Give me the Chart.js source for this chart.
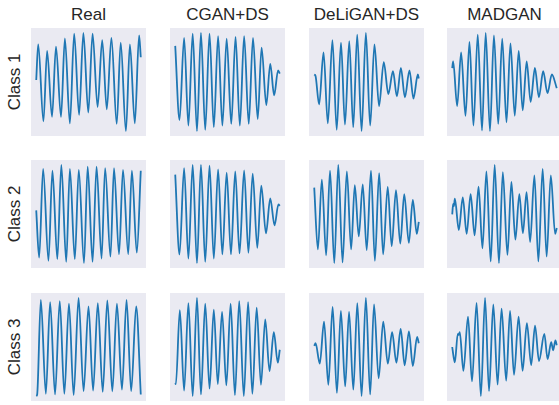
<!DOCTYPE html>
<html>
<head>
<meta charset="utf-8">
<script src="https://cdn.jsdelivr.net/npm/chart.js@4.4.0/dist/chart.umd.min.js"></script>
<style>
  html, body { margin: 0; padding: 0; background: #fff; }
  #fig { position: relative; width: 559px; height: 405px; overflow: hidden; background: #fff;
         font-family: "Liberation Sans", Arial, sans-serif; color: #262626; }
  #fig canvas { position: absolute; }
  .col-title { position: absolute; top: 5px; width: 140px; text-align: center; font-size: 17px; line-height: 20px; }
  .row-label { position: absolute; width: 108px; text-align: center; font-size: 17px; line-height: 20px;
               transform: rotate(-90deg); transform-origin: center center; }
</style>
</head>
<body>
<div id="fig"></div>
<script>
const methods = ['Real', 'CGAN+DS', 'DeLiGAN+DS', 'MADGAN'];
const classes = ['Class 1', 'Class 2', 'Class 3'];

// signal samples [t, value] (extrema mostly)
const realClass1 = [[0,0.05],[1.9,1.15],[6.9,-1.22],[10.4,0.95],[15.1,-1.08],[18.9,1.08],[23.7,-1.08],[27.4,1.33],[32.2,-1.28],[36.3,1.48],[41.0,-1.02],[45.1,1.50],[49.8,-0.95],[53.9,1.48],[58.7,-0.78],[63.1,1.28],[67.5,-0.85],[71.9,1.35],[77.0,-1.30],[80.8,1.20],[85.8,-1.52],[89.6,1.15],[94.3,-1.28],[98.4,1.42],[100,0.75]];
const cganClass1 = [[0,1.10],[4.1,-1.18],[8.5,1.35],[12.6,-1.35],[16.7,1.48],[20.8,-1.52],[24.6,1.50],[28.7,-1.48],[32.8,1.48],[36.9,-1.40],[41.0,1.40],[45.1,-1.35],[49.2,1.32],[53.6,-1.30],[57.7,1.38],[61.8,-1.35],[65.9,1.40],[70.3,-1.30],[74.4,1.35],[78.9,-1.15],[82.6,1.05],[87.1,-0.72],[90.9,0.55],[94.6,-0.42],[98.4,0.35],[100,0.25]];
const deliganClass1 = [[0,0.22],[1.2,0.18],[4.7,-0.70],[8.9,0.90],[13.0,-1.28],[17.4,1.28],[21.5,-1.48],[25.6,1.20],[29.4,-1.32],[33.5,1.25],[37.3,-1.40],[41.1,1.45],[45.3,-1.52],[49.4,1.50],[53.5,-1.35],[57.6,1.15],[62.0,-0.75],[66.5,0.60],[70.9,-0.38],[75.3,0.32],[79.1,-0.45],[82.9,0.42],[86.7,-0.48],[91.1,0.35],[94.9,-0.52],[99.1,0.22],[100,0.10]];
const madganClass1 = [[0,0.42],[0.9,0.62],[4.7,-0.75],[8.5,0.90],[12.7,-1.05],[16.5,1.22],[20.3,-1.35],[24.4,1.45],[28.5,-1.50],[32.0,1.50],[36.1,-1.52],[39.9,1.42],[44.0,-1.30],[47.8,1.32],[51.9,-1.25],[55.7,1.18],[59.8,-1.05],[63.6,0.95],[67.4,-0.88],[71.2,0.62],[75.0,-0.62],[79.1,0.42],[82.9,-0.48],[87.0,0.32],[91.1,-0.35],[95.3,0.22],[100,-0.20]];

const realClass2 = [[0,0.00],[2.8,-1.45],[6.6,1.28],[11.7,-1.55],[15.5,1.22],[20.2,-1.50],[24.0,1.40],[28.7,-1.58],[32.2,1.28],[36.9,-1.50],[40.7,1.25],[45.7,-1.62],[49.2,1.35],[53.9,-1.58],[57.7,1.35],[62.5,-1.48],[65.9,1.30],[71.0,-1.42],[74.4,1.30],[79.2,-1.35],[83.0,1.25],[88.0,-1.35],[91.5,1.22],[96.2,-1.30],[100,1.22]];
const cganClass2 = [[0,1.12],[4.1,-1.35],[8.5,1.32],[12.6,-1.48],[16.7,1.42],[20.8,-1.62],[24.6,1.42],[28.7,-1.58],[32.8,1.40],[36.9,-1.48],[41.0,1.28],[45.1,-1.35],[49.2,1.18],[53.3,-1.35],[57.4,1.22],[61.5,-1.32],[65.9,1.25],[70.0,-1.30],[74.1,1.15],[78.5,-1.15],[82.3,0.78],[86.8,-0.70],[90.9,0.38],[95.0,-0.45],[98.7,0.20],[100,0.15]];
const deliganClass2 = [[0,0.70],[3.5,-1.20],[7.3,0.95],[11.4,-1.38],[15.1,1.22],[19.2,-1.62],[23.0,1.40],[27.1,-1.60],[31.2,1.20],[35.3,-1.20],[38.8,0.78],[42.6,-0.80],[46.4,0.80],[50.2,-1.22],[54.3,1.22],[58.0,-1.55],[62.1,1.15],[65.9,-1.35],[70.3,0.72],[74.1,-1.10],[78.2,0.62],[82.3,-1.02],[86.1,0.50],[90.5,-1.00],[94.3,0.32],[98.1,-0.72],[100,-0.35]];
const madganClass2 = [[0,-0.10],[0.9,0.22],[1.6,0.15],[2.5,0.38],[6.3,-0.58],[10.1,0.42],[13.8,-0.70],[17.6,0.52],[21.4,-0.75],[25.2,0.75],[28.9,-1.15],[32.7,1.22],[36.8,-1.55],[40.6,1.42],[44.7,-1.60],[48.4,1.20],[52.8,-1.35],[56.6,0.90],[60.4,-0.88],[64.2,0.52],[67.6,-0.68],[71.1,0.58],[74.5,-0.95],[78.6,1.10],[82.4,-1.55],[86.5,1.30],[90.3,-1.40],[94.3,1.10],[98.4,-0.70],[100,-0.52]];

const realClass3 = [[0,-1.65],[0.9,-1.60],[4.4,1.32],[9.2,-1.58],[13.3,1.25],[18.0,-1.60],[22.5,1.28],[26.9,-1.58],[31.3,1.20],[35.8,-1.62],[40.5,1.38],[45.3,-1.50],[50.0,1.12],[54.4,-1.48],[58.9,1.22],[63.6,-1.52],[68.0,1.30],[72.8,-1.50],[77.2,1.20],[82.0,-1.45],[86.4,1.32],[90.8,-1.50],[95.6,1.12],[100,-1.60]];
const cganClass3 = [[0,-1.25],[0.6,-1.28],[4.4,1.00],[8.5,-1.48],[12.6,1.22],[16.7,-1.65],[20.8,1.38],[24.6,-1.60],[28.7,1.20],[32.8,-1.42],[36.9,1.02],[40.7,-1.28],[44.8,0.95],[48.9,-1.32],[53.0,1.20],[57.1,-1.62],[61.2,1.28],[65.6,-1.65],[69.7,1.25],[73.8,-1.58],[77.9,1.08],[82.0,-1.30],[86.1,0.72],[90.2,-0.88],[94.3,0.32],[98.1,-0.62],[100,-0.22]];
const deliganClass3 = [[0,-0.10],[1.3,-0.02],[5.3,-0.65],[9.4,0.65],[13.5,-1.30],[17.6,1.10],[21.7,-1.55],[25.5,0.98],[29.6,-1.35],[33.3,0.95],[37.4,-1.45],[41.2,1.22],[45.3,-1.65],[49.4,1.38],[53.5,-1.60],[57.2,1.18],[61.6,-1.10],[66.0,0.65],[70.4,-0.65],[74.5,0.32],[78.6,-0.62],[82.7,0.42],[86.5,-0.70],[90.6,0.35],[94.3,-0.72],[98.4,0.18],[100,-0.02]];
const madganClass3 = [[0,-0.15],[1.3,-0.45],[2.5,-0.62],[5.3,0.25],[6.3,0.22],[7.2,0.30],[10.7,-0.88],[15.1,0.78],[18.9,-1.20],[23.3,1.20],[27.4,-1.65],[31.4,1.35],[35.2,-1.50],[39.3,1.15],[43.4,-1.30],[47.2,1.02],[51.6,-1.18],[55.3,0.95],[59.1,-1.00],[63.5,0.78],[67.3,-0.88],[71.4,0.58],[75.5,-0.70],[79.2,0.50],[83.0,-0.58],[88.1,0.25],[91.2,-0.52],[94.7,0.00],[96.5,-0.25],[98.7,0.05],[100,-0.10]];

const grid = [
  [realClass1, cganClass1, deliganClass1, madganClass1],
  [realClass2, cganClass2, deliganClass2, madganClass2],
  [realClass3, cganClass3, deliganClass3, madganClass3]
];

const fig = document.getElementById('fig');
const colX = [31, 170, 309, 447];
const rowY = [28, 160, 293];
const panelW = 115, panelH = 108;

// panel background like seaborn darkgrid
const bgPlugin = {
  id: 'panelBg',
  beforeDraw(chart) {
    const { ctx, chartArea: a } = chart;
    ctx.save();
    ctx.fillStyle = '#EAEAF2';
    ctx.fillRect(a.left, a.top, a.right - a.left, a.bottom - a.top);
    ctx.restore();
  }
};

methods.forEach((m, c) => {
  const t = document.createElement('div');
  t.className = 'col-title';
  t.textContent = m;
  t.style.left = (colX[c] + panelW / 2 - 70) + 'px';
  fig.appendChild(t);
});

classes.forEach((name, r) => {
  const l = document.createElement('div');
  l.className = 'row-label';
  l.textContent = name;
  l.style.left = (15 - 54) + 'px';
  l.style.top = (rowY[r] + panelH / 2 - 10) + 'px';
  fig.appendChild(l);
});

grid.forEach((row, r) => {
  row.forEach((pts, c) => {
    const cv = document.createElement('canvas');
    cv.width = panelW; cv.height = panelH;
    cv.style.left = colX[c] + 'px';
    cv.style.top = rowY[r] + 'px';
    cv.style.width = panelW + 'px';
    cv.style.height = panelH + 'px';
    fig.appendChild(cv);

    const ys = pts.map(p => p[1]);
    const lo = Math.min(...ys), hi = Math.max(...ys);
    const pad = (hi - lo) * 0.05;

    new Chart(cv, {
      type: 'line',
      data: {
        datasets: [{
          data: pts.map(p => ({ x: p[0], y: p[1] })),
          borderColor: '#1f77b4',
          borderWidth: 1.8,
          pointRadius: 0,
          fill: false,
          cubicInterpolationMode: 'monotone'
        }]
      },
      options: {
        responsive: false,
        animation: false,
        events: [],
        layout: { padding: 0 },
        plugins: { legend: { display: false }, tooltip: { enabled: false } },
        scales: {
          x: { type: 'linear', display: false, min: -5, max: 105 },
          y: { display: false, min: lo - pad, max: hi + pad }
        }
      },
      plugins: [bgPlugin]
    });
  });
});
</script>
</body>
</html>
